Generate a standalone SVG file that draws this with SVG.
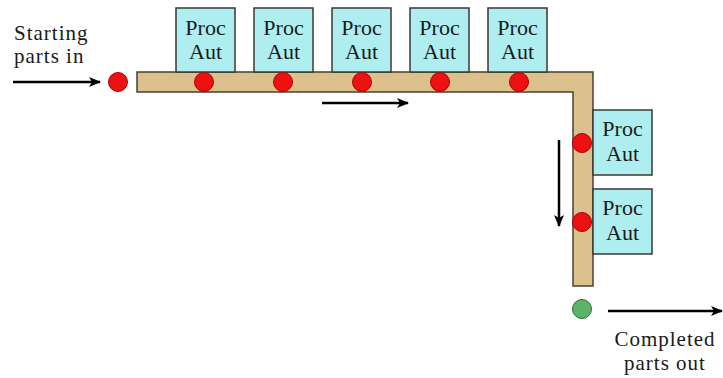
<svg xmlns="http://www.w3.org/2000/svg" width="723" height="378" viewBox="0 0 723 378">
<defs>
<style>
.box{fill:#AEEEF0;stroke:#3A3A30;stroke-width:1.5}
.lbl{font-family:"Liberation Serif","Times New Roman",serif;font-size:22px;fill:#1a1a1a;text-anchor:middle}
.side{font-family:"Liberation Serif","Times New Roman",serif;font-size:21px;letter-spacing:1px;fill:#1a1a1a}
.dot{fill:#EE1111;stroke:#B00000;stroke-width:1}
.arr{stroke:#000;stroke-width:2.5;fill:none;marker-end:url(#ah)}
</style>
<marker id="ah" viewBox="0 0 12 10" refX="11" refY="5" markerWidth="12" markerHeight="10" markerUnits="userSpaceOnUse" orient="auto">
<path d="M0,0 L12,5 L0,10 L3,5 Z" fill="#000"/>
</marker>
</defs>
<rect width="723" height="378" fill="#fff"/>
<g id="conveyor">
<path d="M137,72 H593 V286 H573 V92 H137 Z" fill="#DCC08E" stroke="#4A4030" stroke-width="1.5"/>
</g>
<g id="p1"><rect class="box" x="176" y="8" width="59" height="64"/><text class="lbl" x="205.5" y="35">Proc</text><text class="lbl" x="205.5" y="59">Aut</text></g>
<g id="p2"><rect class="box" x="254" y="8" width="59" height="64"/><text class="lbl" x="283.5" y="35">Proc</text><text class="lbl" x="283.5" y="59">Aut</text></g>
<g id="p3"><rect class="box" x="332" y="8" width="59" height="64"/><text class="lbl" x="361.5" y="35">Proc</text><text class="lbl" x="361.5" y="59">Aut</text></g>
<g id="p4"><rect class="box" x="410" y="8" width="59" height="64"/><text class="lbl" x="439.5" y="35">Proc</text><text class="lbl" x="439.5" y="59">Aut</text></g>
<g id="p5"><rect class="box" x="488" y="8" width="59" height="64"/><text class="lbl" x="517.5" y="35">Proc</text><text class="lbl" x="517.5" y="59">Aut</text></g>
<g id="p6"><rect class="box" x="593" y="110" width="59" height="65"/><text class="lbl" x="622.5" y="136">Proc</text><text class="lbl" x="622.5" y="161">Aut</text></g>
<g id="p7"><rect class="box" x="593" y="189" width="59" height="65"/><text class="lbl" x="622.5" y="215">Proc</text><text class="lbl" x="622.5" y="240">Aut</text></g>
<g id="parts">
<circle class="dot" cx="118" cy="82" r="9.5"/>
<circle class="dot" cx="204" cy="82" r="9.5"/>
<circle class="dot" cx="283" cy="82" r="9.5"/>
<circle class="dot" cx="362" cy="82" r="9.5"/>
<circle class="dot" cx="440" cy="82" r="9.5"/>
<circle class="dot" cx="519" cy="82" r="9.5"/>
<circle class="dot" cx="582" cy="143" r="9.5"/>
<circle class="dot" cx="582" cy="222" r="9.5"/>
<circle cx="582" cy="309" r="9.5" fill="#5CB36A" stroke="#2E6E3A" stroke-width="1"/>
</g>
<g id="connectors">
<line class="arr" x1="13" y1="82" x2="100" y2="82"/>
<line class="arr" x1="322" y1="103" x2="408" y2="103"/>
<line class="arr" x1="559" y1="140" x2="559" y2="226"/>
<line class="arr" x1="608" y1="311" x2="722" y2="311"/>
</g>
<g id="labels">
<text class="side" x="14" y="40">Starting</text>
<text class="side" x="14" y="63">parts in</text>
<text class="side" x="665" y="346" text-anchor="middle">Completed</text>
<text class="side" x="665" y="370" text-anchor="middle">parts out</text>
</g>
</svg>
